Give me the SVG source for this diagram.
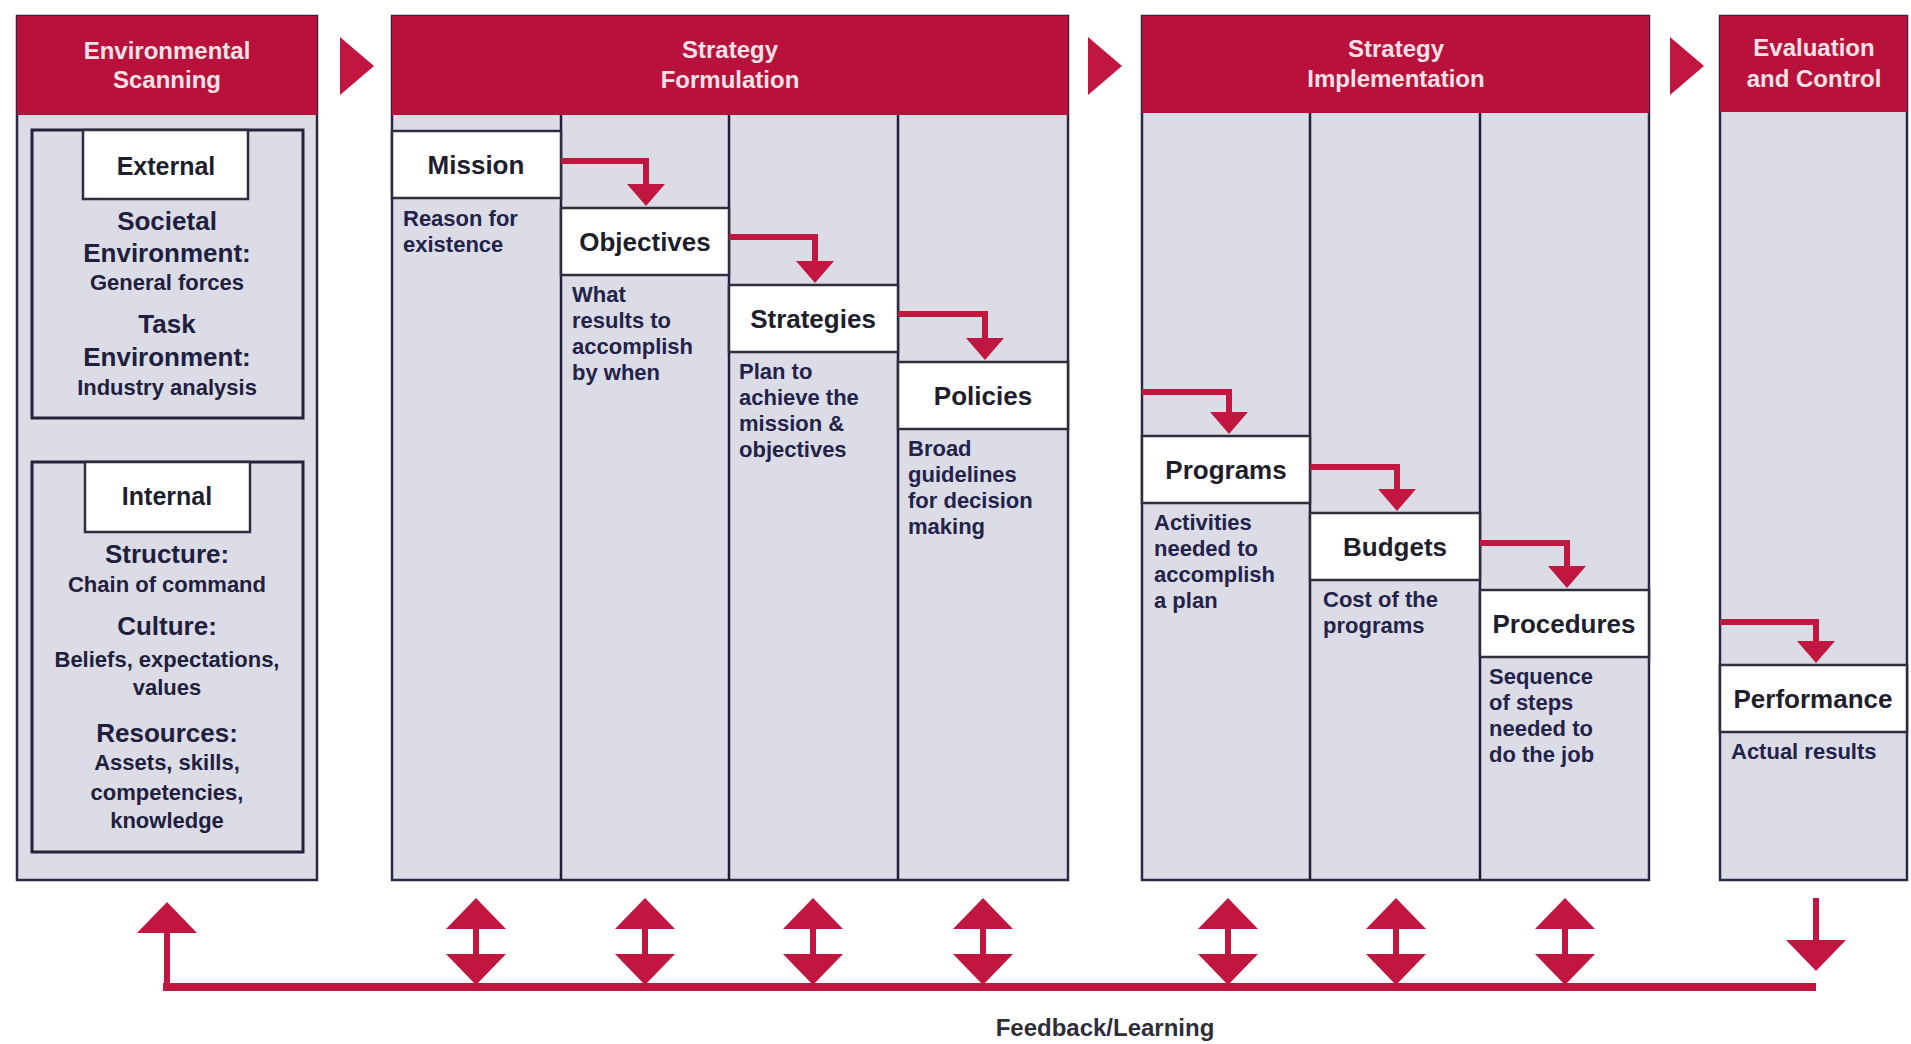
<svg xmlns="http://www.w3.org/2000/svg" width="1911" height="1044" viewBox="0 0 1911 1044">
<style>
text{font-family:"Liberation Sans",Arial,sans-serif;font-weight:bold}
.hdr{fill:#b8123c}
.hdrt{fill:#f4e2e7;font-size:24px;text-anchor:middle}
.body{fill:#dcdce6;stroke:#2a2a44;stroke-width:2.5}
.div{stroke:#1f1f3a;stroke-width:2.5}
.box{fill:#ffffff;stroke:#2e2e3e;stroke-width:2.5}
.lbl{fill:#1e1e2c;font-size:26px;text-anchor:middle}
.desc{fill:#22224a;font-size:22px}
.frame{fill:none;stroke:#22223c;stroke-width:3}
.eh{fill:#20203e;font-size:26px;text-anchor:middle}
.es{fill:#20203e;font-size:22px;text-anchor:middle}
.tri{fill:#c0163f}
.el{fill:none;stroke:#c0163f;stroke-width:6;marker-end:url(#ah)}
.fb{fill:none;stroke:#c0163f;stroke-width:6}
</style>
<defs>
<marker id="ah" viewBox="0 0 22 38" refX="14" refY="19" markerWidth="22" markerHeight="38" orient="auto" markerUnits="userSpaceOnUse"><path d="M0,0 L22,19 L0,38 z" fill="#c0163f"/></marker>
<marker id="bh" viewBox="0 0 31 60" refX="19" refY="30" markerWidth="31" markerHeight="60" orient="auto-start-reverse" markerUnits="userSpaceOnUse"><path d="M0,0 L31,30 L0,60 z" fill="#c0163f"/></marker>
</defs>
<rect width="1911" height="1044" fill="#ffffff"/>

<g id="env-scanning">
<rect class="body" x="17" y="16" width="300" height="864"/>
<rect class="hdr" x="17" y="16" width="300" height="99"/>
<text class="hdrt" x="167" y="59">Environmental</text>
<text class="hdrt" x="167" y="88">Scanning</text>
</g>
<g id="external">
<rect class="frame" x="32" y="130" width="271" height="288"/>
<rect class="box" x="83" y="130" width="165" height="69"/>
<text class="lbl" x="166" y="175" style="font-size:25px">External</text>
<text class="eh" x="167" y="230">Societal</text>
<text class="eh" x="167" y="262">Environment:</text>
<text class="es" x="167" y="290">General forces</text>
<text class="eh" x="167" y="333">Task</text>
<text class="eh" x="167" y="366">Environment:</text>
<text class="es" x="167" y="395">Industry analysis</text>
</g>
<g id="internal">
<rect class="frame" x="32" y="462" width="271" height="390"/>
<rect class="box" x="85" y="462" width="165" height="70"/>
<text class="lbl" x="167" y="505" style="font-size:25px">Internal</text>
<text class="eh" x="167" y="563">Structure:</text>
<text class="es" x="167" y="592">Chain of command</text>
<text class="eh" x="167" y="635">Culture:</text>
<text class="es" x="167" y="667">Beliefs, expectations,</text>
<text class="es" x="167" y="695">values</text>
<text class="eh" x="167" y="742">Resources:</text>
<text class="es" x="167" y="770">Assets, skills,</text>
<text class="es" x="167" y="800">competencies,</text>
<text class="es" x="167" y="828">knowledge</text>
</g>

<g id="strategy-formulation">
<rect class="body" x="392" y="16" width="676" height="864"/>
<rect class="hdr" x="392" y="16" width="676" height="99"/>
<text class="hdrt" x="730" y="58">Strategy</text>
<text class="hdrt" x="730" y="88">Formulation</text>
<line class="div" x1="561" y1="115" x2="561" y2="880"/>
<line class="div" x1="729" y1="115" x2="729" y2="880"/>
<line class="div" x1="898" y1="115" x2="898" y2="880"/>
</g>
<g id="strategy-implementation">
<rect class="body" x="1142" y="16" width="507" height="864"/>
<rect class="hdr" x="1142" y="16" width="507" height="97"/>
<text class="hdrt" x="1396" y="57">Strategy</text>
<text class="hdrt" x="1396" y="87">Implementation</text>
<line class="div" x1="1310" y1="113" x2="1310" y2="880"/>
<line class="div" x1="1480" y1="113" x2="1480" y2="880"/>
</g>
<g id="evaluation-control">
<rect class="body" x="1720" y="16" width="187" height="864"/>
<rect class="hdr" x="1720" y="16" width="187" height="96"/>
<text class="hdrt" x="1814" y="56">Evaluation</text>
<text class="hdrt" x="1814" y="87">and Control</text>
</g>

<g id="phase-arrows">
<polygon class="tri" points="340,37 374,66 340,95"/>
<polygon class="tri" points="1088,37 1122,66 1088,95"/>
<polygon class="tri" points="1670,37 1704,66 1670,95"/>
</g>

<g id="mission">
<rect class="box" x="392" y="131" width="169" height="67"/>
<text class="lbl" x="476" y="174">Mission</text>
<text class="desc" x="403" y="226">Reason for</text>
<text class="desc" x="403" y="252">existence</text>
</g>
<g id="objectives">
<rect class="box" x="561" y="208" width="168" height="67"/>
<text class="lbl" x="645" y="251">Objectives</text>
<text class="desc" x="572" y="302">What</text>
<text class="desc" x="572" y="328">results to</text>
<text class="desc" x="572" y="354">accomplish</text>
<text class="desc" x="572" y="380">by when</text>
</g>
<g id="strategies">
<rect class="box" x="729" y="285" width="169" height="67"/>
<text class="lbl" x="813" y="328">Strategies</text>
<text class="desc" x="739" y="379">Plan to</text>
<text class="desc" x="739" y="405">achieve the</text>
<text class="desc" x="739" y="431">mission &amp;</text>
<text class="desc" x="739" y="457">objectives</text>
</g>
<g id="policies">
<rect class="box" x="898" y="362" width="170" height="67"/>
<text class="lbl" x="983" y="405">Policies</text>
<text class="desc" x="908" y="456">Broad</text>
<text class="desc" x="908" y="482">guidelines</text>
<text class="desc" x="908" y="508">for decision</text>
<text class="desc" x="908" y="534">making</text>
</g>
<g id="programs">
<rect class="box" x="1142" y="436" width="168" height="67"/>
<text class="lbl" x="1226" y="479">Programs</text>
<text class="desc" x="1154" y="530">Activities</text>
<text class="desc" x="1154" y="556">needed to</text>
<text class="desc" x="1154" y="582">accomplish</text>
<text class="desc" x="1154" y="608">a plan</text>
</g>
<g id="budgets">
<rect class="box" x="1310" y="513" width="170" height="67"/>
<text class="lbl" x="1395" y="556">Budgets</text>
<text class="desc" x="1323" y="607">Cost of the</text>
<text class="desc" x="1323" y="633">programs</text>
</g>
<g id="procedures">
<rect class="box" x="1480" y="590" width="169" height="67"/>
<text class="lbl" x="1564" y="633">Procedures</text>
<text class="desc" x="1489" y="684">Sequence</text>
<text class="desc" x="1489" y="710">of steps</text>
<text class="desc" x="1489" y="736">needed to</text>
<text class="desc" x="1489" y="762">do the job</text>
</g>
<g id="performance">
<rect class="box" x="1720" y="665" width="187" height="67"/>
<text class="lbl" x="1813" y="708">Performance</text>
<text class="desc" x="1731" y="759">Actual results</text>
</g>

<g id="connectors">
<path class="el" d="M561,161 H646 V198"/>
<path class="el" d="M729,237 H815 V275"/>
<path class="el" d="M898,314 H985 V352"/>
<path class="el" d="M1142,392 H1229 V426"/>
<path class="el" d="M1310,467 H1397 V503"/>
<path class="el" d="M1480,543 H1567 V580"/>
<path class="el" d="M1720,622 H1816 V655"/>

<line x1="163" y1="987" x2="1816" y2="987" stroke="#c0163f" stroke-width="8"/>
<path class="fb" d="M167,990 V914" marker-end="url(#bh)"/>
<path class="fb" d="M476,910 V973" marker-start="url(#bh)" marker-end="url(#bh)"/>
<path class="fb" d="M645,910 V973" marker-start="url(#bh)" marker-end="url(#bh)"/>
<path class="fb" d="M813,910 V973" marker-start="url(#bh)" marker-end="url(#bh)"/>
<path class="fb" d="M983,910 V973" marker-start="url(#bh)" marker-end="url(#bh)"/>
<path class="fb" d="M1228,910 V973" marker-start="url(#bh)" marker-end="url(#bh)"/>
<path class="fb" d="M1396,910 V973" marker-start="url(#bh)" marker-end="url(#bh)"/>
<path class="fb" d="M1565,910 V973" marker-start="url(#bh)" marker-end="url(#bh)"/>
<path class="fb" d="M1816,898 V959" marker-end="url(#bh)"/>
</g>
<text x="1105" y="1036" text-anchor="middle" style="font-size:24px;fill:#2e2e38">Feedback/Learning</text>
</svg>
